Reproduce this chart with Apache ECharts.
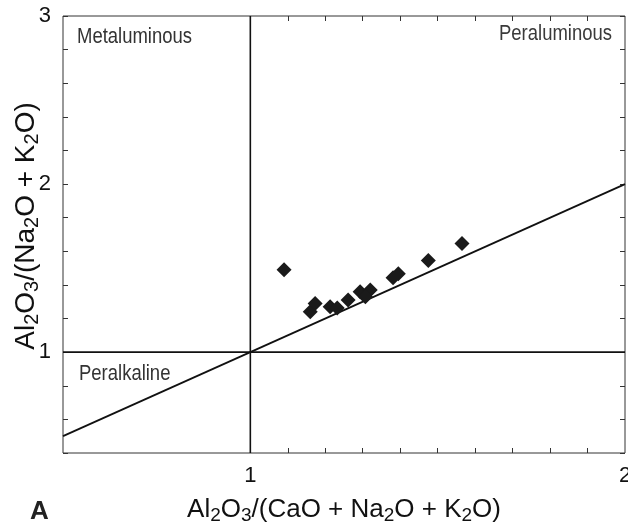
<!DOCTYPE html>
<html>
<head>
<meta charset="utf-8">
<script src="https://cdn.jsdelivr.net/npm/echarts@6/dist/echarts.min.js"></script>
<style>
html,body{margin:0;padding:0;background:#fff;}
#chart{width:628px;height:524px;}
</style>
</head>
<body>
<div id="chart"></div>
<script>
// Axis ranges
const xRange = [0.5, 2];
const yRange = [0.4, 3];
// Tick and label values
const xTickValues = [1.1, 1.2, 1.3, 1.4, 1.5, 1.6, 1.7, 1.8, 1.9];
const xLabelValues = [1, 2];
const yLabelValues = [1, 2, 3];
// Boundary lines
const diagonalLine = [[0.5, 0.5], [2, 2]];
const verticalLine = [[1, 0.4], [1, 3]];
const horizontalLine = [[0.5, 1], [2, 1]];
// Samples: [A/CNK, A/NK]
const samples = [
  [1.09, 1.49],
  [1.16, 1.24],
  [1.173, 1.29],
  [1.213, 1.27],
  [1.232, 1.263],
  [1.261, 1.31],
  [1.293, 1.36],
  [1.32, 1.37],
  [1.307, 1.33],
  [1.381, 1.443],
  [1.395, 1.467],
  [1.475, 1.545],
  [1.565, 1.647]
];
const regionNames = ['Metaluminous', 'Peraluminous', 'Peralkaline'];
const xName = '{n|Al}{s|2}{n|O}{s|3}{n|/(CaO + Na}{s|2}{n|O + K}{s|2}{n|O)}';
const yName = '{n|Al}{s|2}{n|O}{s|3}{n|/(Na}{s|2}{n|O + K}{s|2}{n|O)}';
const panelLetter = 'A';

const chart = echarts.init(document.getElementById('chart'));
const ink = '#111';
const baseFont = 'Liberation Sans';

const tickStyle = {show: true, inside: true, length: 5, lineStyle: {color: '#333', width: 1}};
function pick(list) {
  return function (v) {
    for (let i = 0; i < list.length; i++) {
      if (Math.abs(list[i] - v) < 1e-6) return '{t|' + list[i] + '}';
    }
    return '';
  };
}
const labelRich = {t: {fontSize: 22, fontFamily: baseFont, color: ink, lineHeight: 22}};

const option = {
  backgroundColor: '#fff',
  animation: false,
  textStyle: {fontFamily: baseFont},
  grid: {left: 63, right: 3, top: 16, bottom: 71, show: true, borderColor: '#333', borderWidth: 1,
         backgroundColor: 'transparent', containLabel: false, outerBoundsMode: 'none'},
  xAxis: [
    {
      type: 'value', min: xRange[0], max: xRange[1], interval: 0.1, position: 'bottom',
      axisLine: {show: false}, splitLine: {show: false},
      axisTick: Object.assign({customValues: xTickValues}, tickStyle),
      axisLabel: {formatter: pick(xLabelValues), rich: labelRich, fontSize: 22, color: ink, margin: 12, showMinLabel: true, showMaxLabel: true, hideOverlap: false},
      name: xName, nameLocation: 'middle', nameGap: 42,
      nameTextStyle: {
        rich: {
          n: {fontSize: 26, fontFamily: baseFont, color: ink, lineHeight: 30},
          s: {fontSize: 19, fontFamily: baseFont, color: ink, verticalAlign: 'bottom', lineHeight: 30}
        }
      }
    },
    {
      type: 'value', min: xRange[0], max: xRange[1], position: 'top',
      axisLine: {show: false}, splitLine: {show: false},
      axisTick: Object.assign({customValues: xTickValues}, tickStyle),
      axisLabel: {show: false}
    }
  ],
  yAxis: [
    {
      type: 'value', min: yRange[0], max: yRange[1], interval: 0.2, position: 'left',
      axisLine: {show: false}, splitLine: {show: false},
      axisTick: tickStyle,
      axisLabel: {formatter: pick(yLabelValues), rich: labelRich, fontSize: 22, color: ink, margin: 12, showMinLabel: true, showMaxLabel: true}
    },
    {
      type: 'value', min: yRange[0], max: yRange[1], interval: 0.2, position: 'right',
      axisLine: {show: false}, splitLine: {show: false},
      axisTick: tickStyle,
      axisLabel: {show: false}
    }
  ],
  graphic: [
    {type: 'text', x: 77, y: 26, scaleX: 0.84, style: {text: regionNames[0], font: "22px " + baseFont, fill: '#333'}},
    {type: 'text', x: 612, y: 23, scaleX: 0.84, style: {text: regionNames[1], font: "22px " + baseFont, fill: '#3a3a3a', align: 'right'}},
    {type: 'text', x: 79, y: 363, scaleX: 0.84, style: {text: regionNames[2], font: "22px " + baseFont, fill: '#333'}},
    {type: 'text', x: 30, y: 499, style: {text: panelLetter, font: "bold 26px " + baseFont, fill: '#222'}},
    {
      type: 'text', x: 26, y: 226, rotation: Math.PI / 2,
      style: {
        text: yName, align: 'center', verticalAlign: 'middle',
        rich: {
          n: {fontSize: 28, fontFamily: baseFont, fill: ink, lineHeight: 32},
          s: {fontSize: 20, fontFamily: baseFont, fill: ink, verticalAlign: 'bottom', lineHeight: 32}
        }
      }
    }
  ],
  series: [
    {type: 'line', data: diagonalLine, symbol: 'none', silent: true, lineStyle: {color: '#111', width: 1.8}, z: 2},
    {type: 'line', data: verticalLine, symbol: 'none', silent: true, lineStyle: {color: '#111', width: 1.6}, z: 2},
    {type: 'line', data: horizontalLine, symbol: 'none', silent: true, lineStyle: {color: '#111', width: 1.6}, z: 2},
    {type: 'scatter', data: samples, symbol: 'diamond', symbolSize: 15, itemStyle: {color: '#1a1a1a', opacity: 1}, z: 3}
  ]
};
chart.setOption(option);
</script>
</body>
</html>
